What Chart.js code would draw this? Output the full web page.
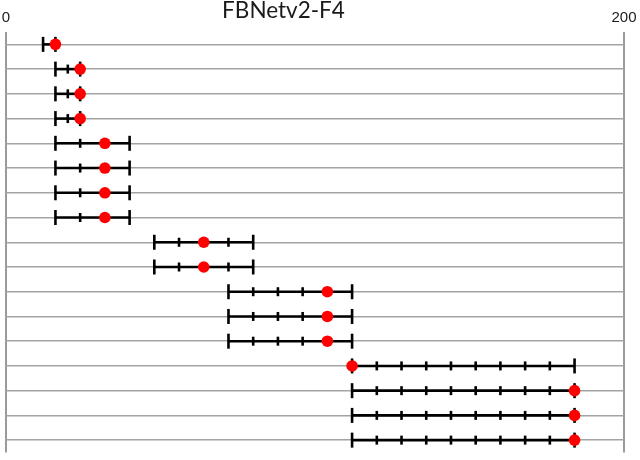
<!DOCTYPE html>
<html>
<head>
<meta charset="utf-8">
<script src="https://cdn.jsdelivr.net/npm/chart.js@4"></script>
<style>
  html, body { margin: 0; padding: 0; background: #fff; }
  #wrap { width: 640px; height: 460px; }
</style>
</head>
<body>
<div id="wrap"><canvas id="c" width="640" height="460"></canvas></div>
<script>
const chartTitle = 'FBNetv2-F4';
const xTickValues = [0, 200];

// channel choices per row (tick marks on each row's bar)
const rowChoices = [
  [12, 16],
  [16, 20, 24],
  [16, 20, 24],
  [16, 20, 24],
  [16, 24, 32, 40],
  [16, 24, 32, 40],
  [16, 24, 32, 40],
  [16, 24, 32, 40],
  [48, 56, 64, 72, 80],
  [48, 56, 64, 72, 80],
  [72, 80, 88, 96, 104, 112],
  [72, 80, 88, 96, 104, 112],
  [72, 80, 88, 96, 104, 112],
  [112, 120, 128, 136, 144, 152, 160, 168, 176, 184],
  [112, 120, 128, 136, 144, 152, 160, 168, 176, 184],
  [112, 120, 128, 136, 144, 152, 160, 168, 176, 184],
  [112, 120, 128, 136, 144, 152, 160, 168, 176, 184]
];
// selected value per row (red dot)
const selected = [16, 24, 24, 24, 32, 32, 32, 32, 64, 64, 104, 104, 104, 112, 184, 184, 184];

const zeroPad = () => ({ left: 0, top: 0, right: 0, bottom: 0 });

const rowDatasets = rowChoices.map((choices, i) => ({
  data: choices.map(v => ({ x: v, y: i })),
  showLine: true,
  borderColor: '#000',
  borderWidth: 2.6,
  pointStyle: 'line',
  rotation: 90,
  pointRadius: ctx => (ctx.dataIndex === 0 || ctx.dataIndex === choices.length - 1) ? 7.5 : 4.5,
  pointBorderWidth: 2.6,
  pointBorderColor: '#000',
  pointBackgroundColor: '#000',
  clip: false,
  order: 2
}));

const dotDataset = {
  data: selected.map((v, i) => ({ x: v, y: i })),
  showLine: false,
  pointStyle: 'circle',
  pointRadius: 5.8,
  pointBackgroundColor: '#ff0000',
  pointBorderColor: '#ff0000',
  pointBorderWidth: 0,
  clip: false,
  order: 1
};

const titlePlugin = {
  id: 'ownTitle',
  afterDraw(chart) {
    const ctx = chart.ctx;
    ctx.save();
    ctx.font = '22.5px Lato';
    ctx.fillStyle = '#1a1a1a';
    ctx.textAlign = 'center';
    ctx.textBaseline = 'alphabetic';
    ctx.fillText(chartTitle, 283.5, 17.5);
    ctx.restore();
  }
};

new Chart(document.getElementById('c'), {
  type: 'scatter',
  data: { datasets: [...rowDatasets, dotDataset] },
  plugins: [titlePlugin],
  options: {
    responsive: false,
    animation: false,
    layout: { autoPadding: false, padding: { left: 6, right: 16, top: 0, bottom: 7.5 } },
    plugins: { legend: { display: false }, tooltip: { enabled: false }, title: { display: false } },
    scales: {
      x: {
        type: 'linear',
        position: 'top',
        min: 0,
        max: 200,
        afterBuildTicks: s => { s.ticks = xTickValues.map(v => ({ value: v })); },
        afterFit: s => { s.height = 32; s.getPadding = zeroPad; },
        ticks: { padding: 5, color: '#1a1a1a', font: { family: 'Liberation Sans', size: 15 }, maxRotation: 0 },
        grid: { color: '#9a9a9a', lineWidth: 2, drawTicks: false },
        border: { display: false }
      },
      y: {
        type: 'linear',
        min: -0.5,
        max: 16.5,
        reverse: true,
        afterBuildTicks: s => { s.ticks = selected.map((_, i) => ({ value: i })); },
        afterFit: s => { s.width = 0; s.getPadding = zeroPad; },
        ticks: { display: false },
        grid: { color: '#a3a3a3', lineWidth: 1.5, drawTicks: false },
        border: { display: false }
      }
    }
  }
});
</script>
</body>
</html>
